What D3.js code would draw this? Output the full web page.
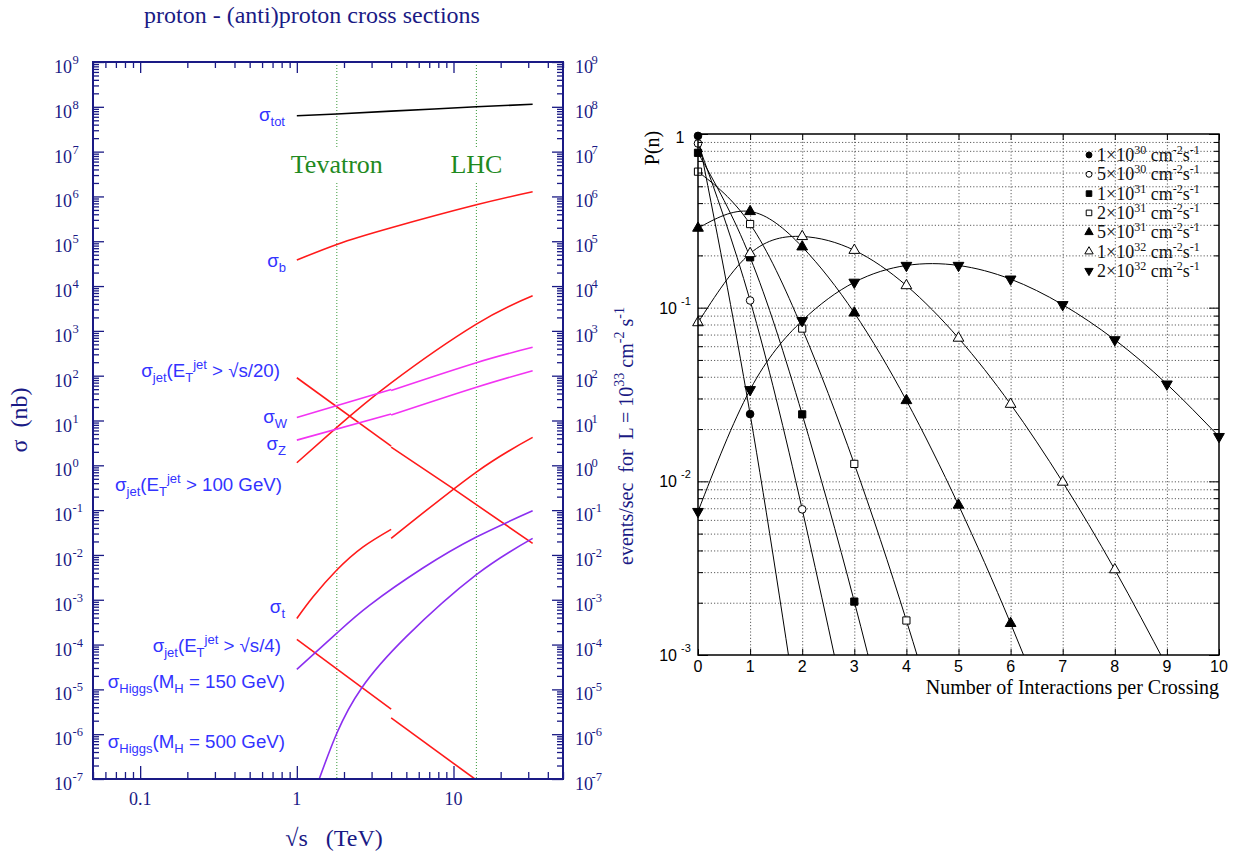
<!DOCTYPE html>
<html>
<head>
<meta charset="utf-8">
<script src="https://cdn.jsdelivr.net/npm/d3@7"></script>
<style>
  body { margin: 0; background: #fff; }
  svg { display: block; }
</style>
</head>
<body>
<svg id="fig" width="1237" height="852"></svg>
<script>
// ================= left panel: sqrt(s) (TeV) -> sigma (nb) =================
const totS = [1, 1.8, 4, 14, 32];
const totSigma = [6.3e7, 6.9e7, 8.0e7, 1.0e8, 1.14e8];

const bS = [1, 1.8, 4, 14, 32];
const bSigma = [3.8e4, 8.5e4, 2.0e5, 6.5e5, 1.27e6];

// jet (ET > sqrt(s)/20), two pieces (ppbar below 4 TeV, pp above)
const jet20S1 = [1, 4];
const jet20Sigma1 = [90, 2.69];
const jet20S2 = [4, 10, 32];
const jet20Sigma2 = [2.55, 0.297, 0.0181];

const jet100S = [1, 1.8, 4, 14, 32];
const jet100Sigma = [1.14, 7.0, 69, 1413, 6070];

const wS1 = [1, 4];
const wSigma1 = [11.7, 49.4];
const wS2 = [4, 14, 32];
const wSigma2 = [46.8, 195, 429];

const zS1 = [1, 4];
const zSigma1 = [3.65, 13.9];
const zS2 = [4, 14, 32];
const zSigma2 = [13.2, 55, 129];

const topS1 = [1, 1.27, 1.8, 2.65, 4];
const topSigma1 = [3.8e-4, 1.16e-3, 4.6e-3, 0.0151, 0.0372];
const topS2 = [4, 14, 32];
const topSigma2 = [0.0234, 0.708, 4.2];

const jet4S1 = [1, 4];
const jet4Sigma1 = [1.3e-4, 3.63e-6];
const jet4S2 = [4, 13.7];
const jet4Sigma2 = [2.31e-6, 1.0e-7];

const h150S = [1, 1.8, 2.92, 6.38, 14, 32];
const h150Sigma = [2.8e-5, 1.8e-4, 7.6e-4, 5.1e-3, 0.0251, 0.0964];

const h500S = [1.39, 1.8, 2.58, 5, 14, 32];
const h500Sigma = [1.0e-7, 1.05e-6, 1.05e-5, 1.5e-4, 3.63e-3, 0.0234];

const colliderNames = ["Tevatron", "LHC"];
const colliderEnergies = [1.8, 14];

// ================= right panel: P(n) per luminosity =================
const lumiMantissa = ["1", "5", "1", "2", "5", "1", "2"];
const lumiExponent = ["30", "30", "31", "31", "31", "32", "32"];
// last value of each list lies below the 10^-3 floor
const p1e30 = [0.975, 0.0244, 0.0003];
const p5e30 = [0.882, 0.110, 0.0069, 0.00029];
const p1e31 = [0.779, 0.195, 0.0243, 0.00203, 0.000127];
const p2e31 = [0.607, 0.303, 0.0758, 0.0126, 0.00158, 0.000158];
const p5e31 = [0.287, 0.358, 0.224, 0.0933, 0.0292, 0.0073, 0.00152, 0.00027];
const p1e32 = [0.082, 0.205, 0.257, 0.214, 0.134, 0.0668, 0.0278, 0.0099, 0.0031, 0.00086];
const p2e32 = [0.0067, 0.0337, 0.0842, 0.140, 0.175, 0.175, 0.146, 0.104, 0.0653, 0.0363, 0.0181];

// ================= drawing =================
const svg = d3.select("#fig");
const SERIF = "'Liberation Serif', 'Times New Roman', serif";
const SANS = "'Liberation Sans', Arial, Helvetica, sans-serif";
const navy = "#1a1a85";
const labelBlue = "#3333ff";

svg.append("rect").attr("width", 1237).attr("height", 852).attr("fill", "#fff");

// text with sub/superscripts: parts = [[text, "sub"|"sup"|undefined], ...]
function richText(sel, parts, big, small, subDy, supDy) {
  let off = 0;
  parts.forEach(([t, m]) => {
    const target = m === "sub" ? subDy : m === "sup" ? supDy : 0;
    sel.append("tspan")
      .attr("dy", target - off)
      .attr("font-size", m ? small : big)
      .text(t);
    off = target;
  });
  return sel;
}

function decades(lo, hi) { return d3.range(lo, hi + 1).map(e => Math.pow(10, e)); }
function minors(lo, hi, from, to) {
  const out = [];
  for (let e = lo; e <= hi; e++) for (let m = 2; m <= 9; m++) {
    const v = m * Math.pow(10, e);
    if (v >= from && v <= to) out.push(v);
  }
  return out;
}

function tickAxis(g, axisFn, scale, vals, size, color, width) {
  g.call(axisFn(scale).tickValues(vals).tickSize(size).tickSizeOuter(0).tickFormat(""));
  g.select(".domain").remove();
  g.selectAll("line").attr("stroke", color).attr("stroke-width", width);
}

// ---------------- left panel ----------------
const L = { left: 93, right: 563, top: 62, bottom: 779 };
const xL = d3.scaleLog().domain([0.05, 50]).range([L.left, L.right]);
const yL = d3.scaleLog().domain([1e-7, 1e9]).range([L.bottom, L.top]);

svg.append("clipPath").attr("id", "clipL").append("rect")
  .attr("x", L.left).attr("y", L.top).attr("width", L.right - L.left).attr("height", L.bottom - L.top);

const gL = svg.append("g");

// collider lines
colliderEnergies.forEach((e, i) => {
  const x = xL(e);
  [[L.top, 148], [183, L.bottom]].forEach(([y1, y2]) => {
    gL.append("line").attr("x1", x).attr("x2", x).attr("y1", y1).attr("y2", y2)
      .attr("stroke", "#3a9a3a").attr("stroke-width", 1).attr("stroke-dasharray", "1,2");
  });
  gL.append("text").attr("x", x).attr("y", 173).attr("text-anchor", "middle")
    .attr("font-family", SERIF).attr("font-size", 26).attr("fill", "#1f8a1f")
    .text(colliderNames[i]);
});

const lineL = d3.line().x(d => xL(d[0])).y(d => yL(d[1])).curve(d3.curveNatural);
const curvesL = [
  [totS, totSigma, "#000"],
  [bS, bSigma, "#ff1a1a"],
  [jet20S1, jet20Sigma1, "#ff1a1a"], [jet20S2, jet20Sigma2, "#ff1a1a"],
  [jet100S, jet100Sigma, "#ff1a1a"],
  [wS1, wSigma1, "#f233f2"], [wS2, wSigma2, "#f233f2"],
  [zS1, zSigma1, "#f233f2"], [zS2, zSigma2, "#f233f2"],
  [topS1, topSigma1, "#ff1a1a"], [topS2, topSigma2, "#ff1a1a"],
  [jet4S1, jet4Sigma1, "#ff1a1a"], [jet4S2, jet4Sigma2, "#ff1a1a"],
  [h150S, h150Sigma, "#8b2ff0"],
  [h500S, h500Sigma, "#8b2ff0"]
];
const curveG = gL.append("g").attr("clip-path", "url(#clipL)");
curvesL.forEach(([xs, ys, col]) => {
  curveG.append("path").datum(xs.map((x, i) => [x, ys[i]]))
    .attr("d", lineL).attr("fill", "none").attr("stroke", col).attr("stroke-width", 1.6);
});

// curve labels
const curveLabels = [
  [["σ"], ["tot", "sub"]],
  [["σ"], ["b", "sub"]],
  [["σ"], ["jet", "sub"], ["(E"], ["T", "sub"], ["jet", "sup"], [" > √s/20)"]],
  [["σ"], ["W", "sub"]],
  [["σ"], ["Z", "sub"]],
  [["σ"], ["jet", "sub"], ["(E"], ["T", "sub"], ["jet", "sup"], [" > 100 GeV)"]],
  [["σ"], ["t", "sub"]],
  [["σ"], ["jet", "sub"], ["(E"], ["T", "sub"], ["jet", "sup"], [" > √s/4)"]],
  [["σ"], ["Higgs", "sub"], ["(M"], ["H", "sub"], [" = 150 GeV)"]],
  [["σ"], ["Higgs", "sub"], ["(M"], ["H", "sub"], [" = 500 GeV)"]]
];
const labelBaselines = [121, 267, 377, 423, 450, 491, 613, 652, 688, 748];
const labelRight = [285, 286, 280, 287, 286, 282, 285, 281, 285, 285];
curveLabels.forEach((parts, i) => {
  const t = gL.append("text").attr("x", labelRight[i]).attr("y", labelBaselines[i])
    .attr("text-anchor", "end").attr("font-family", SANS).attr("fill", labelBlue);
  richText(t, parts, 18.7, 13, 5, -8);
});

// axes ticks
const decL = decades(-7, 9);
const minL = minors(-7, 8, 1e-7, 1e9);
const xMaj = [0.1, 1, 10];
const xMin = minors(-2, 1, 0.05, 50);
const axG = gL.append("g");
tickAxis(axG.append("g").attr("transform", `translate(${L.left},0)`), d3.axisLeft, yL, decL, -11, navy, 1.3);
tickAxis(axG.append("g").attr("transform", `translate(${L.left},0)`), d3.axisLeft, yL, minL, -6, navy, 1.3);
tickAxis(axG.append("g").attr("transform", `translate(${L.right},0)`), d3.axisRight, yL, decL, -11, navy, 1.3);
tickAxis(axG.append("g").attr("transform", `translate(${L.right},0)`), d3.axisRight, yL, minL, -6, navy, 1.3);
tickAxis(axG.append("g").attr("transform", `translate(0,${L.bottom})`), d3.axisBottom, xL, xMaj, -13, navy, 1.3);
tickAxis(axG.append("g").attr("transform", `translate(0,${L.bottom})`), d3.axisBottom, xL, xMin, -7, navy, 1.3);
tickAxis(axG.append("g").attr("transform", `translate(0,${L.top})`), d3.axisTop, xL, xMaj, -11, navy, 1.3);
tickAxis(axG.append("g").attr("transform", `translate(0,${L.top})`), d3.axisTop, xL, xMin, -6, navy, 1.3);
gL.append("rect").attr("x", L.left).attr("y", L.top).attr("width", L.right - L.left)
  .attr("height", L.bottom - L.top).attr("fill", "none").attr("stroke", navy).attr("stroke-width", 2);

// power-of-ten labels on both sides
decL.forEach(v => {
  const e = Math.round(Math.log10(v));
  const y = yL(v);
  gL.append("text").attr("x", 72).attr("y", y + 11).attr("text-anchor", "end")
    .attr("font-family", SERIF).attr("font-size", 18).attr("fill", navy).text("10");
  gL.append("text").attr("x", 72.5).attr("y", y + 2).attr("font-family", SERIF)
    .attr("font-size", 12.5).attr("fill", navy).text(e);
  gL.append("text").attr("x", 575).attr("y", y + 11)
    .attr("font-family", SERIF).attr("font-size", 18).attr("fill", navy).text("10");
  gL.append("text").attr("x", 591.5).attr("y", y + 2).attr("font-family", SERIF)
    .attr("font-size", 12.5).attr("fill", navy).text(e);
});
xMaj.forEach(v => {
  gL.append("text").attr("x", xL(v)).attr("y", 805).attr("text-anchor", "middle")
    .attr("font-family", SERIF).attr("font-size", 18).attr("fill", navy).text(v);
});

// titles
svg.append("text").attr("x", 312).attr("y", 23).attr("text-anchor", "middle")
  .attr("font-family", SERIF).attr("font-size", 24).attr("fill", navy)
  .text("proton - (anti)proton cross sections");
svg.append("text").attr("x", 334).attr("y", 846).attr("text-anchor", "middle")
  .attr("font-family", SERIF).attr("font-size", 24).attr("fill", navy)
  .style("white-space", "pre").text("√s   (TeV)");
svg.append("text").attr("transform", "translate(27,420) rotate(-90)").attr("text-anchor", "middle")
  .attr("font-family", SERIF).attr("font-size", 24).attr("fill", navy)
  .style("white-space", "pre").text("σ  (nb)");
const rt = svg.append("text").attr("transform", "translate(633,436) rotate(-90)")
  .attr("text-anchor", "middle").attr("font-family", SERIF).attr("fill", navy)
  .style("white-space", "pre");
richText(rt, [["events/sec  for  L = 10"], ["33", "sup"], [" cm"], ["-2", "sup"], [" s"], ["-1", "sup"]], 20, 14, 0, -9);

// ---------------- right panel ----------------
const R = { left: 698, right: 1219, top: 134, bottom: 655 };
const xR = d3.scaleLinear().domain([0, 10]).range([R.left, R.right]);
const yR = d3.scaleLog().domain([1e-3, 1]).range([R.bottom, R.top]);
const gR = svg.append("g");

svg.append("clipPath").attr("id", "clipR").append("rect")
  .attr("x", R.left).attr("y", R.top).attr("width", R.right - R.left).attr("height", R.bottom - R.top);

// dotted grid
const gridY = minors(-3, -1, 1e-3, 1).concat([1e-2, 1e-1]);
gR.append("g").attr("transform", `translate(${R.left},0)`)
  .call(d3.axisLeft(yR).tickValues(gridY).tickSize(-(R.right - R.left)).tickFormat(""))
  .call(g => g.select(".domain").remove())
  .selectAll("line").attr("stroke", "#333").attr("stroke-width", 0.8).attr("stroke-dasharray", "1.2,2");
gR.append("g").attr("transform", `translate(0,${R.bottom})`)
  .call(d3.axisBottom(xR).tickValues(d3.range(1, 10)).tickSize(-(R.bottom - R.top)).tickFormat(""))
  .call(g => g.select(".domain").remove())
  .selectAll("line").attr("stroke", "#333").attr("stroke-width", 0.8).attr("stroke-dasharray", "1.2,2");

// curves and markers
const seriesP = [p1e30, p5e30, p1e31, p2e31, p5e31, p1e32, p2e32];
const symTypes = [d3.symbolCircle, d3.symbolCircle, d3.symbolSquare, d3.symbolSquare,
                  d3.symbolTriangle, d3.symbolTriangle, d3.symbolTriangle];
const symFilled = [true, false, true, false, true, false, true];
const symRot = [0, 0, 0, 0, 0, 0, 180];
const symSize = [46, 46, 52, 52, 50, 50, 50];

const lineR = d3.line().x((d, i) => xR(i)).y(d => yR(d)).curve(d3.curveNatural);
const cg = gR.append("g").attr("clip-path", "url(#clipR)");
seriesP.forEach(p => {
  cg.append("path").datum(p).attr("d", lineR).attr("fill", "none")
    .attr("stroke", "#000").attr("stroke-width", 1);
});
seriesP.forEach((p, s) => {
  p.forEach((v, n) => {
    if (v < 1e-3) return;
    gR.append("path")
      .attr("d", d3.symbol().type(symTypes[s]).size(symSize[s]))
      .attr("transform", `translate(${xR(n)},${yR(v)}) rotate(${symRot[s]})`)
      .attr("fill", symFilled[s] ? "#000" : "#fff").attr("stroke", "#000").attr("stroke-width", 1);
  });
});

// frame ticks
const decR = decades(-3, 0);
const minR = minors(-3, -1, 1e-3, 1);
tickAxis(gR.append("g").attr("transform", `translate(${R.left},0)`), d3.axisLeft, yR, decR, -10, "#000", 1);
tickAxis(gR.append("g").attr("transform", `translate(${R.left},0)`), d3.axisLeft, yR, minR, -5, "#000", 1);
tickAxis(gR.append("g").attr("transform", `translate(${R.right},0)`), d3.axisRight, yR, decR, -10, "#000", 1);
tickAxis(gR.append("g").attr("transform", `translate(${R.right},0)`), d3.axisRight, yR, minR, -5, "#000", 1);
tickAxis(gR.append("g").attr("transform", `translate(0,${R.top})`), d3.axisTop, xR, d3.range(0, 11), -6, "#000", 1);
tickAxis(gR.append("g").attr("transform", `translate(0,${R.bottom})`), d3.axisBottom, xR, d3.range(0, 11), -6, "#000", 1);
gR.append("rect").attr("x", R.left).attr("y", R.top).attr("width", R.right - R.left)
  .attr("height", R.bottom - R.top).attr("fill", "none").attr("stroke", "#000").attr("stroke-width", 1.5);

// axis labels
gR.append("text").attr("x", 680).attr("y", yR(1) + 9).attr("text-anchor", "middle")
  .attr("font-family", SANS).attr("font-size", 16).text("1");
decR.slice(0, 3).forEach(v => {
  const e = Math.round(Math.log10(v));
  gR.append("text").attr("x", 677).attr("y", yR(v) + 6).attr("text-anchor", "end")
    .attr("font-family", SANS).attr("font-size", 16).text("10");
  gR.append("text").attr("x", 681).attr("y", yR(v) - 3)
    .attr("font-family", SANS).attr("font-size", 11).text(e);
});
d3.range(0, 11).forEach(n => {
  gR.append("text").attr("x", xR(n)).attr("y", 672).attr("text-anchor", "middle")
    .attr("font-family", SANS).attr("font-size", 16).text(n);
});
gR.append("text").attr("x", R.right).attr("y", 694).attr("text-anchor", "end")
  .attr("font-family", SERIF).attr("font-size", 20).text("Number of Interactions per Crossing");
gR.append("text").attr("transform", "translate(659,148) rotate(-90)").attr("text-anchor", "middle")
  .attr("font-family", SERIF).attr("font-size", 20).text("P(n)");

// legend
lumiMantissa.forEach((m, s) => {
  const y = 155 + s * 19.3;
  gR.append("path")
    .attr("d", d3.symbol().type(symTypes[s]).size(symSize[s] * 0.6))
    .attr("transform", `translate(1089,${y}) rotate(${symRot[s]})`)
    .attr("fill", symFilled[s] ? "#000" : "#fff").attr("stroke", "#000").attr("stroke-width", 1);
  const t = gR.append("text").attr("x", 1097).attr("y", y + 6).attr("font-family", SERIF).attr("fill", "#111");
  richText(t, [[m + "×10"], [lumiExponent[s], "sup"], [" cm"], ["-2", "sup"], ["s"], ["-1", "sup"]], 18, 12, 0, -7);
});
</script>
</body>
</html>
